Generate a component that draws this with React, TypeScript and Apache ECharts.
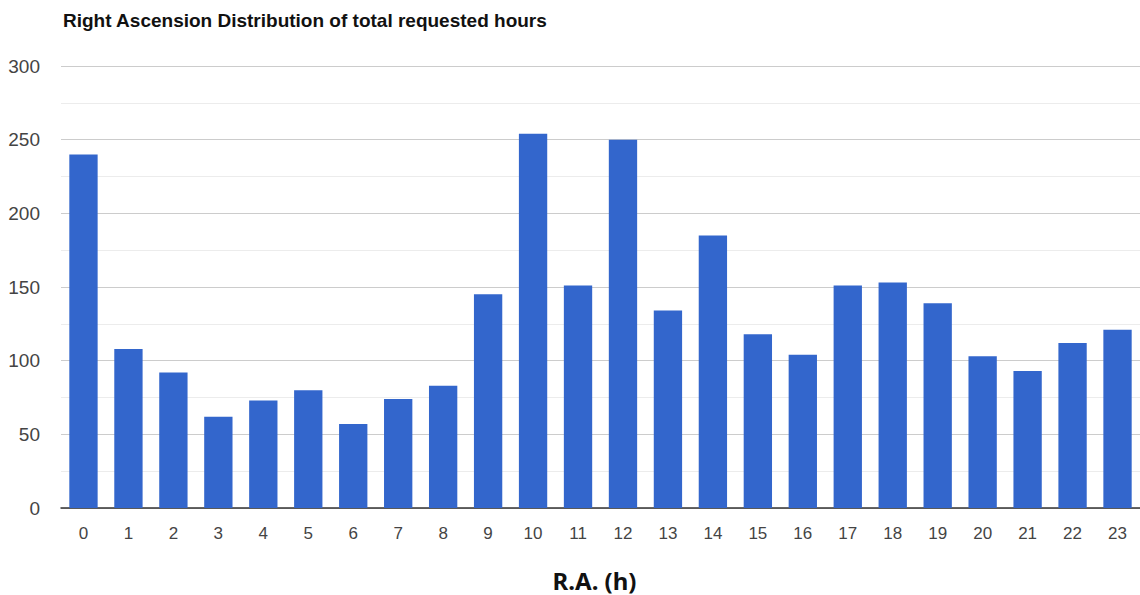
import React, { useEffect, useRef } from "react";
import * as echarts from "echarts";

const categories = ["0","1","2","3","4","5","6","7","8","9","10","11","12","13","14","15","16","17","18","19","20","21","22","23"];
const hours = [240, 108, 92, 62, 73, 80, 57, 74, 83, 145, 254, 151, 250, 134, 185, 118, 104, 151, 153, 139, 103, 93, 112, 121];
const titleText = "Right Ascension Distribution of total requested hours";
const xAxisTitle = "R.A. (h)";

export default function App() {
  const ref = useRef<HTMLDivElement>(null);
  useEffect(() => {
    if (!ref.current) return;
    const chart = echarts.init(ref.current, null, { renderer: "svg" });
    chart.setOption({
      animation: false,
      backgroundColor: "#ffffff",
      title: {
        text: titleText,
        left: 58,
        top: 6,
        textStyle: { fontFamily: "Liberation Sans, Arial, sans-serif", fontSize: 19, fontWeight: "bold", color: "#111" },
      },
      grid: { left: 61, right: 0, top: 66, bottom: 87, containLabel: false, outerBoundsMode: "none" },
      xAxis: {
        type: "category",
        data: categories,
        name: xAxisTitle,
        nameLocation: "middle",
        nameGap: 60,
        nameTextStyle: { fontFamily: "Noto Sans, sans-serif", fontSize: 24, fontWeight: "bold", color: "#111", padding: [0, 12, 0, 0] },
        axisTick: { show: false },
        axisLine: { lineStyle: { color: "#333", width: 1.5 } },
        axisLabel: { fontFamily: "Liberation Sans, Arial, sans-serif", fontSize: 17, color: "#444", margin: 17 },
      },
      yAxis: {
        type: "value",
        min: 0,
        max: 300,
        interval: 50,
        axisLine: { show: false },
        axisTick: { show: false },
        axisLabel: { fontFamily: "Liberation Sans, Arial, sans-serif", fontSize: 19, color: "#444", margin: 21 },
        splitLine: { lineStyle: { color: "#cccccc", width: 1 } },
        minorTick: { show: false, splitNumber: 2 },
        minorSplitLine: { show: true, lineStyle: { color: "#ececec", width: 1 } },
      },
      series: [
        {
          type: "bar",
          data: hours,
          barCategoryGap: "37%",
          itemStyle: { color: "#3366cc" },
        },
      ],
    });
    return () => chart.dispose();
  }, []);
  return <div ref={ref} style={{ position: "absolute", left: 0, top: 0, width: 1140, height: 595 }} />;
}
